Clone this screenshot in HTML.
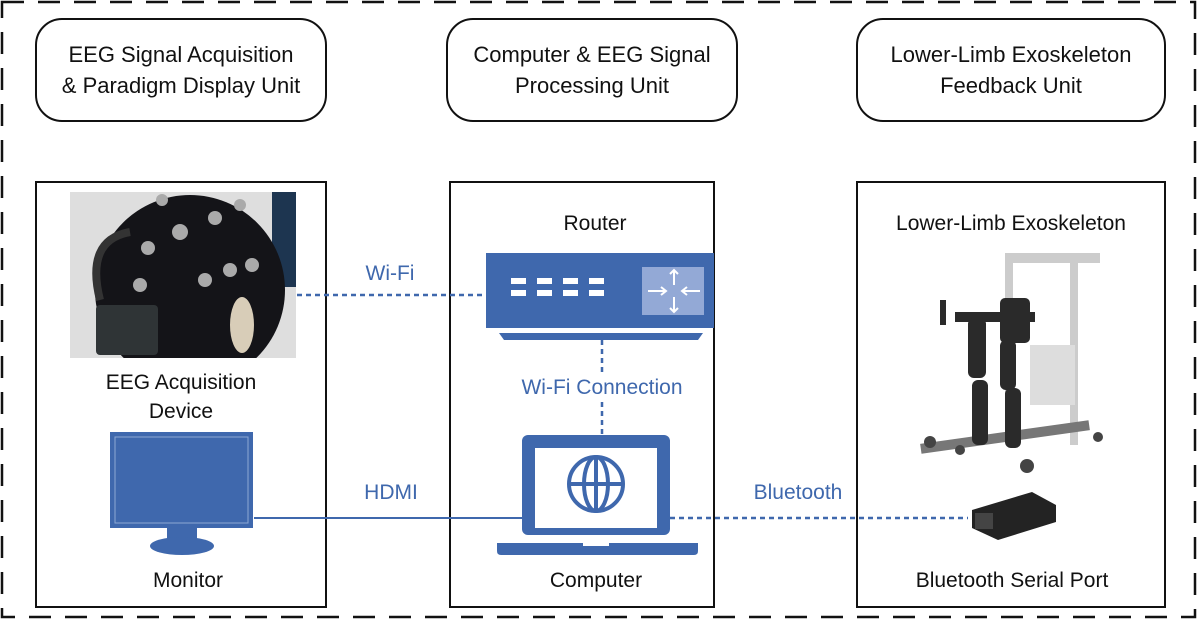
<!DOCTYPE html>
<html><head><meta charset="utf-8"><style>
html,body{margin:0;padding:0;background:#fff;}
svg{display:block;}
text{font-family:"Liberation Sans",Arial,sans-serif;}
</style></head><body>
<svg width="1200" height="623" viewBox="0 0 1200 623">
<defs><clipPath id="ph"><rect x="70" y="192" width="226" height="166"/></clipPath></defs>
<rect x="2" y="2" width="1193" height="615" fill="none" stroke="#111" stroke-width="2.5" stroke-dasharray="22,14"/>
<g fill="#fff" stroke="#111" stroke-width="2">
<rect x="36" y="19" width="290" height="102" rx="26"/>
<rect x="447" y="19" width="290" height="102" rx="26"/>
<rect x="857" y="19" width="308" height="102" rx="26"/>
</g>
<g font-family="Liberation Sans, Arial, sans-serif" font-size="22" fill="#111" text-anchor="middle">
<text x="181" y="62">EEG Signal Acquisition</text>
<text x="181" y="93">&amp; Paradigm Display Unit</text>
<text x="592" y="62">Computer &amp; EEG Signal</text>
<text x="592" y="93">Processing Unit</text>
<text x="1011" y="62">Lower-Limb Exoskeleton</text>
<text x="1011" y="93">Feedback Unit</text>
</g>
<g fill="none" stroke="#111" stroke-width="2">
<rect x="36" y="182" width="290" height="425"/>
<rect x="450" y="182" width="264" height="425"/>
<rect x="857" y="182" width="308" height="425"/>
</g>
<g clip-path="url(#ph)">
<rect x="70" y="192" width="226" height="166" fill="#dedede"/>
<rect x="272" y="192" width="24" height="95" fill="#1d3550"/>
<ellipse cx="190" cy="290" rx="95" ry="95" fill="#141418"/>
<rect x="96" y="305" width="62" height="50" rx="4" fill="#2f3436"/>
<path d="M100 300 Q85 240 130 232" stroke="#333" stroke-width="8" fill="none"/>
<ellipse cx="242" cy="325" rx="12" ry="28" fill="#d8cdb8"/>
<g fill="#aaa"><circle cx="180" cy="232" r="8"/><circle cx="148" cy="248" r="7"/><circle cx="215" cy="218" r="7"/><circle cx="230" cy="270" r="7"/><circle cx="205" cy="280" r="7"/><circle cx="140" cy="285" r="7"/><circle cx="252" cy="265" r="7"/><circle cx="162" cy="200" r="6"/><circle cx="240" cy="205" r="6"/></g>
</g>
<g font-family="Liberation Sans, Arial, sans-serif" font-size="21" fill="#111" text-anchor="middle">
<text x="181" y="389">EEG Acquisition</text>
<text x="181" y="418">Device</text>
<text x="188" y="587">Monitor</text>
<text x="595" y="230">Router</text>
<text x="596" y="587">Computer</text>
<text x="1011" y="230">Lower-Limb Exoskeleton</text>
<text x="1012" y="587">Bluetooth Serial Port</text>
</g>
<rect x="110" y="432" width="143" height="96" fill="#3f68ad"/>
<rect x="115" y="437" width="133" height="86" fill="none" stroke="#8ea8d4" stroke-width="1"/>
<rect x="167" y="528" width="30" height="15" fill="#3f68ad"/>
<ellipse cx="182" cy="546" rx="32" ry="9" fill="#3f68ad"/>
<g stroke="#3f68ad" stroke-width="2.5" fill="none">
<line x1="297" y1="295" x2="486" y2="295" stroke-dasharray="5,4"/>
<line x1="602" y1="340" x2="602" y2="372" stroke-dasharray="5,4"/>
<line x1="602" y1="402" x2="602" y2="435" stroke-dasharray="5,4"/>
<line x1="254" y1="518" x2="522" y2="518" stroke-width="2"/>
<line x1="670" y1="518" x2="968" y2="518" stroke-dasharray="5,4"/>
</g>
<g font-family="Liberation Sans, Arial, sans-serif" font-size="21" fill="#3f68ad" text-anchor="middle">
<text x="390" y="280">Wi-Fi</text>
<text x="602" y="394">Wi-Fi Connection</text>
<text x="391" y="499">HDMI</text>
<text x="798" y="499">Bluetooth</text>
</g>
<rect x="486" y="253" width="228" height="75" fill="#3f68ad"/>
<path d="M499 333 H703 L698 340 H504 Z" fill="#3f68ad"/>
<g fill="#fff">
<rect x="511" y="278" width="15" height="6"/><rect x="511" y="290" width="15" height="6"/>
<rect x="537" y="278" width="15" height="6"/><rect x="537" y="290" width="15" height="6"/>
<rect x="563" y="278" width="15" height="6"/><rect x="563" y="290" width="15" height="6"/>
<rect x="589" y="278" width="15" height="6"/><rect x="589" y="290" width="15" height="6"/>
</g>
<rect x="642" y="267" width="62" height="48" fill="#93a9d6"/>
<g stroke="#fff" stroke-width="2" fill="none">
<path d="M648 291 H666 M661 287 L666 291 L661 295"/>
<path d="M700 291 H682 M687 287 L682 291 L687 295"/>
<path d="M674 270 V285 M670 274 L674 270 L678 274"/>
<path d="M674 312 V297 M670 308 L674 312 L678 308"/>
</g>
<rect x="522" y="435" width="148" height="100" rx="6" fill="#3f68ad"/>
<rect x="535" y="448" width="122" height="80" fill="#fff"/>
<g stroke="#3f68ad" stroke-width="4" fill="none">
<circle cx="596" cy="484" r="27"/>
<ellipse cx="596" cy="484" rx="12" ry="27"/>
<line x1="569" y1="484" x2="623" y2="484"/>
<line x1="596" y1="457" x2="596" y2="511"/>
</g>
<path d="M497 543 H583 V546 H609 V543 H698 V551 Q698 555 694 555 H501 Q497 555 497 551 Z" fill="#3f68ad"/>
<g fill="#ccc">
<rect x="1005" y="253" width="8" height="190"/><rect x="1070" y="255" width="8" height="190"/>
<rect x="1005" y="253" width="95" height="10"/>
<rect x="1030" y="345" width="45" height="60" fill="#ddd"/>
</g>
<rect x="920" y="432" width="170" height="10" fill="#777" transform="rotate(-8 1005 437)"/>
<g fill="#2a2a2a">
<rect x="1000" y="298" width="30" height="45" rx="5"/>
<rect x="955" y="312" width="80" height="10"/>
<rect x="968" y="318" width="18" height="60" rx="6"/>
<rect x="1000" y="340" width="16" height="50" rx="6"/>
<rect x="972" y="380" width="16" height="65" rx="6"/>
<rect x="1005" y="388" width="16" height="60" rx="6"/>
<rect x="940" y="300" width="6" height="25"/>
</g>
<g fill="#444"><circle cx="930" cy="442" r="6"/><circle cx="1027" cy="466" r="7"/><circle cx="1098" cy="437" r="5"/><circle cx="960" cy="450" r="5"/></g>
<path d="M972 510 L1032 492 L1056 505 L1056 522 L998 540 L972 528 Z" fill="#232323"/>
<rect x="975" y="513" width="18" height="16" fill="#444"/>
</svg>
</body></html>
